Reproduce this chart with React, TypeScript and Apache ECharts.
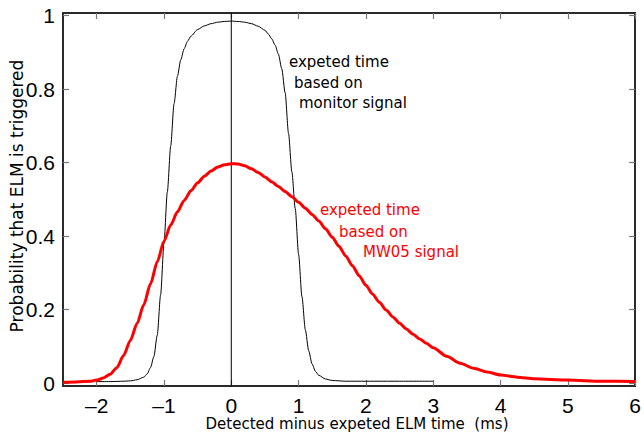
import React, { useEffect, useRef } from "react";
import * as echarts from "echarts";

const xTicks = [-2, -1, 0, 1, 2, 3, 4, 5, 6];
const yTicks = [0, 0.2, 0.4, 0.6, 0.8, 1];

const monitorX = [-2, -1.8, -1.6, -1.5, -1.4, -1.3, -1.25, -1.2, -1.15, -1.1, -1.05, -1.0, -0.95, -0.9, -0.85, -0.8, -0.75, -0.7, -0.65, -0.6, -0.5, -0.4, -0.3, -0.2, -0.1, 0, 0.1, 0.2, 0.3, 0.4, 0.5, 0.55, 0.6, 0.65, 0.7, 0.75, 0.8, 0.85, 0.9, 0.95, 1.0, 1.05, 1.1, 1.15, 1.2, 1.25, 1.3, 1.4, 1.5, 1.7, 2, 2.5, 3];
const monitorY = [0.004, 0.004, 0.005, 0.006, 0.009, 0.016, 0.025, 0.042, 0.072, 0.13, 0.24, 0.38, 0.52, 0.645, 0.76, 0.835, 0.88, 0.91, 0.93, 0.944, 0.962, 0.972, 0.978, 0.982, 0.984, 0.985, 0.984, 0.982, 0.978, 0.971, 0.96, 0.95, 0.937, 0.92, 0.895, 0.855, 0.79, 0.68, 0.575, 0.475, 0.35, 0.235, 0.145, 0.088, 0.052, 0.032, 0.021, 0.011, 0.007, 0.005, 0.005, 0.005, 0.005];

const mw05X = [-2.5, -2.3, -2.1, -2.0, -1.9, -1.8, -1.7, -1.6, -1.5, -1.4, -1.3, -1.2, -1.1, -1.0, -0.9, -0.8, -0.7, -0.6, -0.5, -0.4, -0.3, -0.2, -0.1, 0, 0.1, 0.2, 0.3, 0.4, 0.5, 0.6, 0.7, 0.8, 0.9, 1.0, 1.1, 1.2, 1.3, 1.4, 1.5, 1.6, 1.7, 1.8, 1.9, 2.0, 2.1, 2.2, 2.3, 2.4, 2.5, 2.6, 2.7, 2.8, 2.9, 3.0, 3.2, 3.4, 3.6, 3.8, 4.0, 4.25, 4.5, 5.0, 5.5, 6.0];
const mw05Y = [0.002, 0.003, 0.005, 0.008, 0.014, 0.024, 0.042, 0.075, 0.116, 0.162, 0.213, 0.27, 0.33, 0.386, 0.43, 0.466, 0.497, 0.523, 0.545, 0.563, 0.577, 0.588, 0.594, 0.597, 0.596, 0.591, 0.583, 0.573, 0.561, 0.548, 0.535, 0.521, 0.507, 0.492, 0.476, 0.459, 0.441, 0.42, 0.397, 0.372, 0.346, 0.319, 0.292, 0.266, 0.242, 0.22, 0.199, 0.18, 0.163, 0.147, 0.133, 0.12, 0.108, 0.096, 0.073, 0.054, 0.04, 0.03, 0.022, 0.016, 0.012, 0.008, 0.005, 0.004];

const zeroLineX = [0, 0];
const zeroLineY = [-0.01, 1.01];

const labelFont = "Liberation Sans";
const textFont = "DejaVu Sans";

export default function App() {
  const ref = useRef<HTMLDivElement>(null);
  useEffect(() => {
    if (!ref.current) return;
    const chart = echarts.init(ref.current, null, { renderer: "svg" });
    const axisLine = { show: true, onZero: false, lineStyle: { color: "#2a2a2a", width: 2 } };
    const tickStyle = { color: "#777", width: 1.2 };
    const fmtX = (v: number) => (v < 0 ? "\u2013" + Math.abs(v) : String(v));
    chart.setOption({
      animation: false,
      backgroundColor: "#fff",
      grid: { left: 63, top: 13, width: 577, height: 373, containLabel: false },
      xAxis: [
        {
          type: "value",
          min: -2.5,
          max: 6,
          position: "bottom",
          axisLine,
          axisTick: { show: true, inside: true, length: 6, lineStyle: tickStyle, customValues: xTicks },
          axisLabel: {
            show: true,
            customValues: xTicks,
            formatter: fmtX,
            fontFamily: labelFont,
            fontSize: 21,
            lineHeight: 16,
            color: "#000",
            margin: 11,
          },
          splitLine: { show: false },
        },
        {
          type: "value",
          min: -2.5,
          max: 6,
          position: "top",
          axisLine,
          axisTick: { show: true, inside: true, length: 6, lineStyle: tickStyle, customValues: xTicks },
          axisLabel: { show: false },
          splitLine: { show: false },
        },
      ],
      yAxis: [
        {
          type: "value",
          min: -0.008,
          max: 1.007,
          position: "left",
          axisLine,
          axisTick: { show: true, inside: true, length: 6, lineStyle: tickStyle, customValues: yTicks },
          axisLabel: {
            show: true,
            customValues: yTicks,
            formatter: (v: number) => String(Math.round(v * 10) / 10),
            fontFamily: labelFont,
            fontSize: 21,
            lineHeight: 16,
            color: "#000",
            margin: 8,
          },
          splitLine: { show: false },
        },
        {
          type: "value",
          min: -0.008,
          max: 1.007,
          position: "right",
          axisLine,
          axisTick: { show: true, inside: true, length: 6, lineStyle: tickStyle, customValues: yTicks },
          axisLabel: { show: false },
          splitLine: { show: false },
        },
      ],
      series: [
        {
          type: "line",
          data: zeroLineX.map((x, i) => [x, zeroLineY[i]]),
          showSymbol: false,
          lineStyle: { color: "#000", width: 1 },
          silent: true,
        },
        {
          type: "line",
          data: monitorX.map((x, i) => [x, monitorY[i]]),
          showSymbol: false,
          smooth: 0.25,
          smoothMonotone: "x",
          lineStyle: { color: "#000", width: 1 },
        },
        {
          type: "line",
          data: mw05X.map((x, i) => [x, mw05Y[i]]),
          showSymbol: false,
          smooth: 0.25,
          smoothMonotone: "x",
          lineStyle: { color: "#ff0000", width: 3 },
        },
      ],
      graphic: [
        {
          type: "text",
          x: 357,
          y: 424,
          style: { text: "Detected minus expeted ELM time  (ms)", font: `15px ${textFont}`, fill: "#000", textAlign: "center", textVerticalAlign: "middle" },
        },
        {
          type: "text",
          x: 17,
          y: 196,
          rotation: Math.PI / 2,
          style: { text: "Probability that ELM is triggered", font: `17px ${textFont}`, fill: "#000", textAlign: "center", textVerticalAlign: "middle" },
        },
        { type: "text", x: 289, y: 62, style: { text: "expeted time", font: `15px ${textFont}`, fill: "#000", textVerticalAlign: "middle" } },
        { type: "text", x: 294, y: 83, style: { text: "based on", font: `15px ${textFont}`, fill: "#000", textVerticalAlign: "middle" } },
        { type: "text", x: 299, y: 103, style: { text: "monitor signal", font: `15px ${textFont}`, fill: "#000", textVerticalAlign: "middle" } },
        { type: "text", x: 320, y: 210, style: { text: "expeted time", font: `15px ${textFont}`, fill: "#ff0000", textVerticalAlign: "middle" } },
        { type: "text", x: 339, y: 232, style: { text: "based on", font: `15px ${textFont}`, fill: "#ff0000", textVerticalAlign: "middle" } },
        { type: "text", x: 363, y: 252, style: { text: "MW05 signal", font: `15px ${textFont}`, fill: "#ff0000", textVerticalAlign: "middle" } },
      ],
    });
    return () => chart.dispose();
  }, []);
  return <div ref={ref} style={{ position: "absolute", left: 0, top: 0, width: 644, height: 439 }} />;
}
